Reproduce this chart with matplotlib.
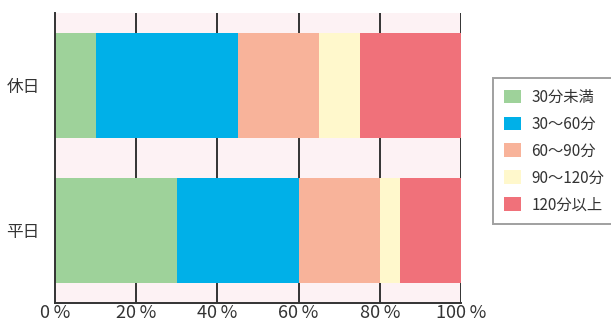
import matplotlib
matplotlib.use("Agg")
import matplotlib.pyplot as plt
import numpy as np

plt.rcParams['font.family'] = ['Noto Sans CJK JP', 'DejaVu Sans']

# data
days = ['平日', '休日']
bands = ['30分未満', '30～60分', '60～90分', '90～120分', '120分以上']
weekday = [30, 30, 20, 5, 15]
holiday = [10, 35, 20, 10, 25]
colors = ['#9ed29a', '#00b0e8', '#f8b39a', '#fff8cc', '#f0717a']
ticks = [0, 20, 40, 60, 80, 100]
tick_labels = ['0\u2009%', '20\u2009%', '40\u2009%', '60\u2009%', '80\u2009%', '100\u2009%']

fig = plt.figure(figsize=(6.11, 3.24), dpi=100)
ax = fig.add_axes([55 / 611, 21 / 324, 406 / 611, 290 / 324])
ax.set_facecolor('#fdf2f4')

values = np.array([weekday, holiday])
y = np.arange(len(days))
left = np.zeros(len(days))
for i, name in enumerate(bands):
    ax.barh(y, values[:, i], left=left, height=0.72, color=colors[i],
            label=name, zorder=3, linewidth=0)
    left += values[:, i]

for t in ticks[1:]:
    ax.axvline(t, color='#333333', lw=1.4, zorder=1)

ax.set_xlim(0, 100)
ax.set_ylim(-0.5, 1.5)
ax.set_xticks(ticks)
ax.set_xticklabels(tick_labels, fontsize=13, color='#333333')
ax.set_yticks(y)
ax.set_yticklabels(days, fontsize=12, color='#333333')
ax.tick_params(length=0)
ax.tick_params(axis='y', pad=11)
ax.tick_params(axis='x', pad=1)
for s in ['top', 'right']:
    ax.spines[s].set_visible(False)
for s in ['left', 'bottom']:
    ax.spines[s].set_color('#333333')
    ax.spines[s].set_linewidth(1.4)
    ax.spines[s].set_zorder(4)

leg = fig.legend(loc='upper left', bbox_to_anchor=(493 / 611, 1 - 78 / 324),
                 fontsize=11, frameon=True, fancybox=False, edgecolor='#888888',
                 handlelength=1.1, handleheight=1.0, handletextpad=0.7,
                 labelspacing=0.65, borderpad=0.7, borderaxespad=0)
leg.get_frame().set_linewidth(1.4)
for txt in leg.get_texts():
    txt.set_color('#333333')

fig.savefig('out.png', dpi=100, facecolor='white')
